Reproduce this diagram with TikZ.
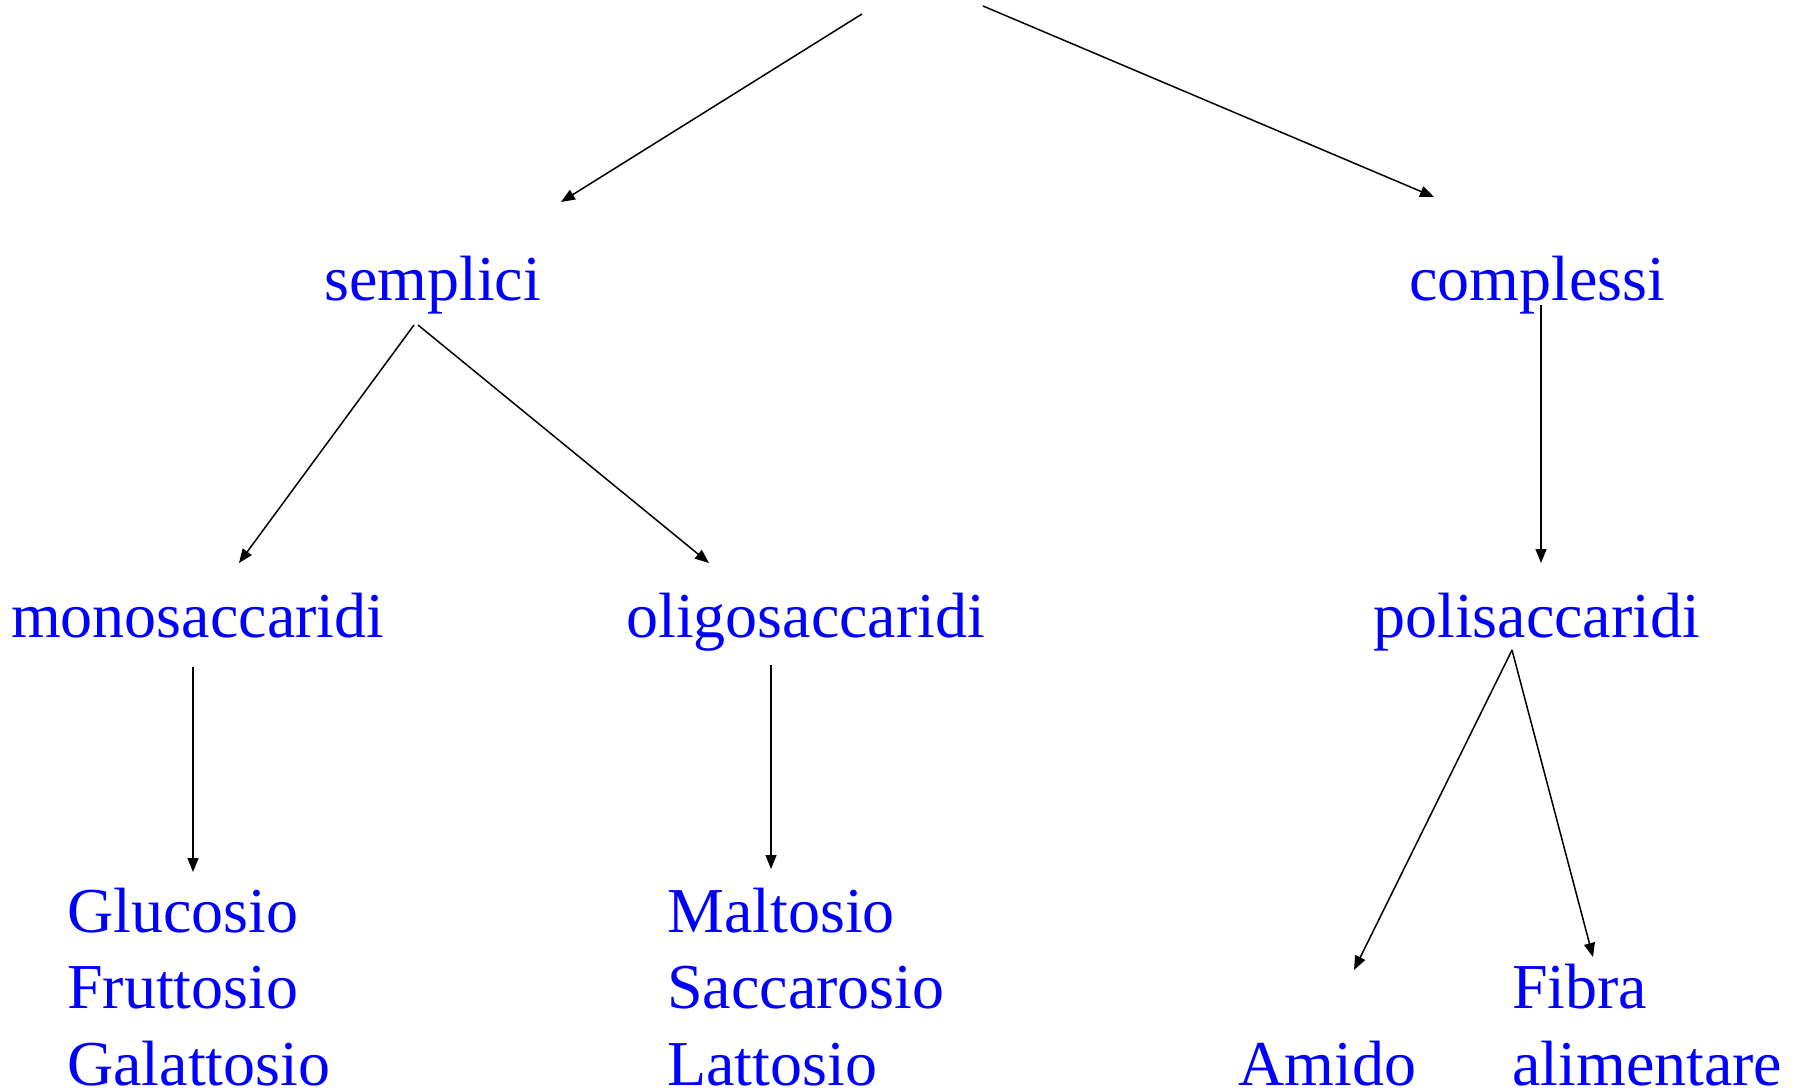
\documentclass[tikz,border=0pt]{standalone}
\usepackage{fontspec}
\setmainfont{Liberation Serif}
\usetikzlibrary{arrows.meta}
\definecolor{txtblue}{RGB}{0,0,255}
\begin{document}
\begin{tikzpicture}[x=1pt,y=-1pt,
  lbl/.style={anchor=base west, inner sep=0pt, text=txtblue, font=\fontsize{64}{77}\selectfont},
  arr/.style={-{Triangle[length=14pt,width=11pt]}, line width=1.5pt}]
\useasboundingbox (0,0) rectangle (1798,1091);
% labels
\node[lbl] (semplici) at (324,300) {semplici};
\node[lbl] (complessi) at (1409,300) {complessi};
\node[lbl] (mono) at (11,637) {monosaccaridi};
\node[lbl] (oligo) at (626,637) {oligosaccaridi};
\node[lbl] (poli) at (1373,637) {polisaccaridi};
\node[lbl] (gluc) at (67,932) {Glucosio};
\node[lbl] (frut) at (67,1008) {Fruttosio};
\node[lbl] (gal) at (67,1085) {Galattosio};
\node[lbl] (malt) at (667,932) {Maltosio};
\node[lbl] (sacc) at (667,1008) {Saccarosio};
\node[lbl] (latt) at (667,1085) {Lattosio};
\node[lbl] (amido) at (1238,1085) {Amido};
\node[lbl] (fibra) at (1512,1008) {Fibra};
\node[lbl] (alim) at (1512,1085) {alimentare};
% connector ends
\coordinate (r1) at (862,14);
\coordinate (r2) at (983,6);
\coordinate (sempIn) at (561,202);
\coordinate (compIn) at (1434,197);
\coordinate (sempOutL) at (414,325);
\coordinate (sempOutR) at (418,325);
\coordinate (monoIn) at (239,563);
\coordinate (oligoIn) at (709,563);
\coordinate (compOut) at (1541,305);
\coordinate (poliIn) at (1541,563);
\coordinate (monoOut) at (193,667);
\coordinate (glucIn) at (193,872);
\coordinate (oligoOut) at (771,665);
\coordinate (maltIn) at (771,869);
\coordinate (poliOut) at (1512,650);
\coordinate (amidoIn) at (1354,970);
\coordinate (fibraIn) at (1593,957);
% connectors
\draw[arr] (r1) -- (sempIn);
\draw[arr] (r2) -- (compIn);
\draw[arr] (sempOutL) -- (monoIn);
\draw[arr] (sempOutR) -- (oligoIn);
\draw[arr] (compOut) -- (poliIn);
\draw[arr] (monoOut) -- (glucIn);
\draw[arr] (oligoOut) -- (maltIn);
\draw[arr] (poliOut) -- (amidoIn);
\draw[arr] (poliOut) -- (fibraIn);
\end{tikzpicture}
\end{document}
